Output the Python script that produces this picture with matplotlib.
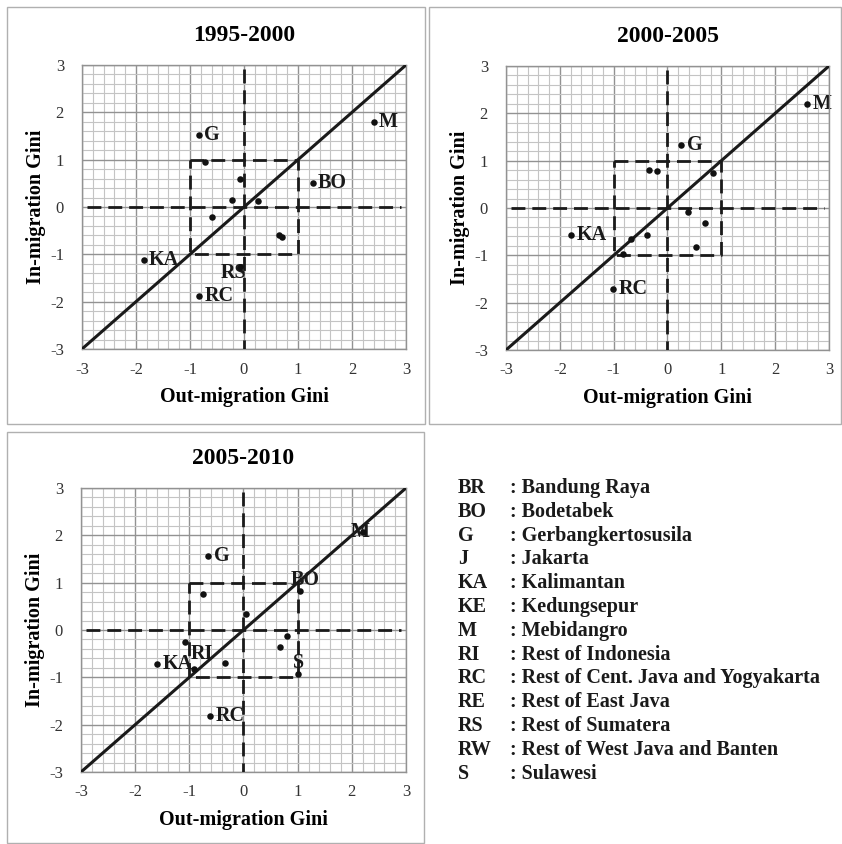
"""
In- vs out-migration Gini by region, three periods, plus a key of region codes
"""

import numpy as np
import matplotlib.pyplot as plt
from matplotlib.patches import Rectangle

plt.rcParams['font.family'] = ['Liberation Serif', 'DejaVu Serif']
plt.rcParams['axes.unicode_minus'] = False

# ---- data ----
periods = ['1995-2000', '2000-2005', '2005-2010']

out_9500 = [-0.84, -0.72, -0.07, -0.23, 0.26, -0.60, 0.65, 0.70, 1.27, 2.40, -1.86, -0.07, -0.83]
in_9500 = [1.52, 0.96, 0.59, 0.15, 0.13, -0.22, -0.59, -0.64, 0.51, 1.80, -1.11, -1.27, -1.87]
lab_9500 = ['G', '', '', '', '', '', '', '', 'BO', 'M', 'KA', 'RS', 'RC']

out_0005 = [2.60, 0.25, -0.34, -0.20, 0.84, 0.39, 0.70, 0.53, -0.39, -0.68, -0.82, -1.79, -1.01]
in_0005 = [2.19, 1.33, 0.80, 0.78, 0.73, -0.08, -0.31, -0.83, -0.56, -0.66, -0.97, -0.58, -1.72]
lab_0005 = ['M', 'G', '', '', '', '', '', '', '', '', '', 'KA', 'RC']

out_0510 = [2.21, -0.65, 1.04, -0.75, 0.05, 0.81, 0.67, -0.34, -1.08, -1.59, -0.92, 1.01, -0.61]
in_0510 = [2.08, 1.56, 0.83, 0.76, 0.34, -0.13, -0.35, -0.69, -0.25, -0.72, -0.83, -0.93, -1.82]
lab_0510 = ['M', 'G', 'BO', '', '', '', '', '', 'RI', 'KA', '', 'S', 'RC']

codes = ['BR', 'BO', 'G', 'J', 'KA', 'KE', 'M', 'RI', 'RC', 'RE', 'RS', 'RW', 'S']
names = ['Bandung Raya', 'Bodetabek', 'Gerbangkertosusila', 'Jakarta', 'Kalimantan',
         'Kedungsepur', 'Mebidangro', 'Rest of Indonesia',
         'Rest of Cent. Java and Yogyakarta', 'Rest of East Java', 'Rest of Sumatera',
         'Rest of West Java and Banten', 'Sulawesi']

# where each label sits relative to its dot (points)
offsets = {
    ('1995-2000', 'RS'): (-5, -4, 'center'),
    ('2005-2010', 'M'): (-2, 0, 'center'),
    ('2005-2010', 'BO'): (4, 8, 'center'),
    ('2005-2010', 'S'): (0, 8, 'center'),
    ('2005-2010', 'RI'): (12, -9, 'center'),
}

datasets = [(out_9500, in_9500, lab_9500),
            (out_0005, in_0005, lab_0005),
            (out_0510, in_0510, lab_0510)]

W, H = 842, 844
fig = plt.figure(figsize=(W / 100, H / 100), dpi=100)

# panel frames (pixels: x0, y0, x1, y1)
frames = [(7, 7, 425, 424), (429, 7, 841, 424), (7, 432, 424, 843)]
for x0, y0, x1, y1 in frames:
    fig.add_artist(Rectangle((x0 / W, 1 - y1 / H), (x1 - x0) / W, (y1 - y0) / H,
                             transform=fig.transFigure, fill=False,
                             edgecolor='#b0b0b0', lw=1.0))

# plot areas (pixels: left, top, right, bottom)
boxes = [(82, 65, 406, 349), (506, 66, 829, 350), (81, 488, 406, 772)]

for (px0, py0, px1, py1), period, (xs, ys, labs) in zip(boxes, periods, datasets):
    ax = fig.add_axes([px0 / W, 1 - py1 / H, (px1 - px0) / W, (py1 - py0) / H])
    ax.set_xlim(-3, 3)
    ax.set_ylim(-3, 3)
    ax.set_xticks(np.arange(-3, 4, 1))
    ax.set_yticks(np.arange(-3, 4, 1))
    ax.set_xticks(np.arange(-3, 3.01, 0.2), minor=True)
    ax.set_yticks(np.arange(-3, 3.01, 0.2), minor=True)
    ax.grid(which='minor', color='#c4c4c4', lw=0.8)
    ax.grid(which='major', color='#929292', lw=1.0)
    ax.set_axisbelow(True)
    ax.tick_params(which='both', length=0)
    ax.tick_params(axis='x', pad=9, labelsize=12, labelcolor='#333333')
    ax.tick_params(axis='y', pad=13, labelsize=12, labelcolor='#333333')
    for s in ax.spines.values():
        s.set_color('#929292')
        s.set_linewidth(1.0)

    # reference lines
    ax.plot([-3, 3], [-3, 3], color='#1a1a1a', lw=2.2, zorder=3)
    dash = dict(color='#1a1a1a', lw=2.0, dashes=(5, 2.5), zorder=4)
    ax.plot([-2.9, 2.9], [0, 0], **dash)
    ax.plot([0, 0], [2.92, -3], **dash)
    ax.plot([-1, 1, 1, -1, -1], [1, 1, -1, -1, 1], **dash)

    ax.scatter(xs, ys, s=22, color='#111111', zorder=5, linewidths=0)
    for x, y, lab in zip(xs, ys, labs):
        if not lab:
            continue
        dx, dy, ha = offsets.get((period, lab), (4, 0, 'left'))
        ax.annotate(lab, (x, y), xytext=(dx, dy), textcoords='offset points',
                    ha=ha, va='center', fontsize=14.5, fontweight='bold',
                    color='#1a1a1a', zorder=2)

    ax.set_title(period, fontsize=17, fontweight='bold', pad=17)
    ax.set_xlabel('Out-migration Gini', fontsize=14.5, fontweight='bold', labelpad=7)
    ax.set_ylabel('In-migration Gini', fontsize=14.5, fontweight='bold', labelpad=3)

# key of region codes
for i, (c, n) in enumerate(zip(codes, names)):
    yy = 1 - (488 + 23.8 * i) / H
    fig.text(458 / W, yy, c, fontsize=14.5, fontweight='bold', va='center', color='#1a1a1a')
    fig.text(510 / W, yy, ': ' + n, fontsize=14.5, fontweight='bold', va='center', color='#1a1a1a')

plt.savefig('out.png', dpi=100)
